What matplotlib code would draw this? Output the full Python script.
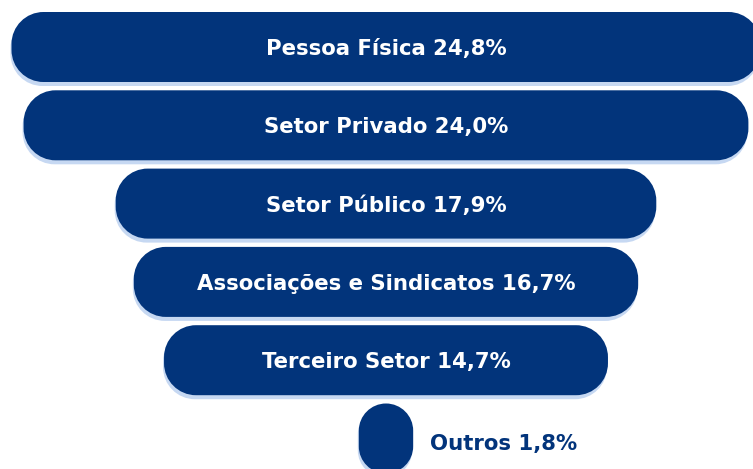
import matplotlib
matplotlib.use("Agg")
import matplotlib.pyplot as plt
from matplotlib.path import Path
from matplotlib.patches import PathPatch

# data
labels = ["Pessoa Física", "Setor Privado", "Setor Público",
          "Associações e Sindicatos", "Terceiro Setor", "Outros"]
values = [24.8, 24.0, 17.9, 16.7, 14.7, 1.8]

navy = "#02347b"
shadow = "#c6d8f2"

W, H = 753, 469
px_x = 30.2      # pixels per percent
px_y = 78.3      # pixels per row
cx = 386         # funnel centre in pixels
row0 = 47        # first row centre in pixels


def rounded_box(x0, y0, w, h, rx, ry):
    # rounded rectangle with elliptical (circular on screen) corners
    k = 0.5523
    x1, y1 = x0 + w, y0 + h
    verts = [
        (x0 + rx, y0), (x1 - rx, y0),
        (x1 - rx + k * rx, y0), (x1, y0 + ry - k * ry), (x1, y0 + ry),
        (x1, y1 - ry),
        (x1, y1 - ry + k * ry), (x1 - rx + k * rx, y1), (x1 - rx, y1),
        (x0 + rx, y1),
        (x0 + rx - k * rx, y1), (x0, y1 - ry + k * ry), (x0, y1 - ry),
        (x0, y0 + ry),
        (x0, y0 + ry - k * ry), (x0 + rx - k * rx, y0), (x0 + rx, y0),
        (x0 + rx, y0),
    ]
    codes = ([Path.MOVETO, Path.LINETO] + [Path.CURVE4] * 3 + [Path.LINETO]
             + [Path.CURVE4] * 3 + [Path.LINETO] + [Path.CURVE4] * 3
             + [Path.LINETO] + [Path.CURVE4] * 3 + [Path.CLOSEPOLY])
    return Path(verts, codes)


fig = plt.figure(figsize=(W / 100, H / 100), dpi=100)
ax = fig.add_axes([0, 0, 1, 1])
ax.set_xlim(-cx / px_x, (W - cx) / px_x)
ax.set_ylim((H - row0) / px_y, -row0 / px_y)
ax.axis("off")

bar_h = 70 / px_y
dy = 4 / px_y
dx = -1 / px_x

for i, (lab, v) in enumerate(zip(labels, values)):
    w = v
    r = min(w * px_x / 2, 32)
    for off_x, off_y, col, z in [(dx, dy, shadow, 1), (0, 0, navy, 2)]:
        path = rounded_box(-w / 2 + off_x, i - bar_h / 2 + off_y, w, bar_h,
                           r / px_x, r / px_y)
        ax.add_patch(PathPatch(path, fc=col, ec="none", zorder=z))
    txt = f"{lab} {v:.1f}%".replace(".", ",")
    if v > 5:
        ax.text(0, i + 2 / px_y, txt, color="white", fontsize=15.3, fontweight="bold",
                family="DejaVu Sans", ha="center", va="center", zorder=3)
    else:
        ax.text(w / 2 + 17 / px_x, i + 6 / px_y, txt, color=navy, fontsize=15.3,
                fontweight="bold", family="DejaVu Sans", ha="left", va="center", zorder=3)

fig.savefig("out.png", dpi=100)
